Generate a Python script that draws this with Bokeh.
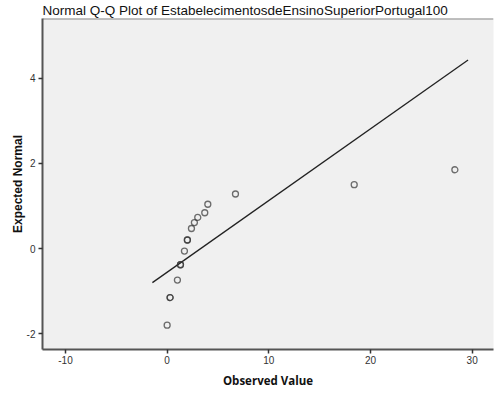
from bokeh.plotting import figure
from bokeh.embed import file_html
from bokeh.resources import INLINE
from bokeh.models import FixedTicker, Range1d

observed = [0.0, 0.29, 0.29, 1.01, 1.31, 1.31, 1.70, 1.99, 1.99, 2.39, 2.68, 3.01, 3.70, 4.00, 6.72, 18.4, 28.3]
expected = [-1.80, -1.15, -1.15, -0.74, -0.38, -0.38, -0.06, 0.20, 0.20, 0.47, 0.61, 0.73, 0.84, 1.04, 1.28, 1.50, 1.85]

# Reference line: expected = (x - mean) / sd
line_mean = 3.30
line_sd = 5.94
line_x = [-1.45, 29.6]
line_y = [(v - line_mean) / line_sd for v in line_x]

x_ticks = [-10, 0, 10, 20, 30]
y_ticks = [-2, 0, 2, 4]

p = figure(width=494, height=394, output_backend="svg", toolbar_location=None,
           x_range=Range1d(-12.26, 32.1), y_range=Range1d(-2.37, 5.40),
           title="Normal Q-Q Plot of EstabelecimentosdeEnsinoSuperiorPortugal100")
p.min_border_left = 42
p.min_border_right = 1
p.min_border_top = 0
p.min_border_bottom = 45
p.background_fill_color = "#f0f0f0"
p.border_fill_color = "white"
p.outline_line_color = None
p.grid.visible = False

p.title.text_font = "Liberation Sans"
p.title.text_font_size = "13.5px"
p.title.text_font_style = "normal"
p.title.text_color = "#111111"
p.title.offset = 0
p.title.standoff = 1

p.line(line_x, line_y, line_color="#222222", line_width=1.3)
p.scatter(observed, expected, size=6, fill_color=None, line_color="#333333",
          line_alpha=0.7, line_width=1.3)

# top border line
p.segment(x0=[-12.26], y0=[5.40], x1=[32.1], y1=[5.40], line_color="#888888", line_width=2)

for ax, ticks in ((p.xaxis[0], x_ticks), (p.yaxis[0], y_ticks)):
    ax.ticker = FixedTicker(ticks=ticks)
    ax.major_label_overrides = {t: str(t) for t in ticks}
    ax.minor_tick_line_color = None
    ax.major_tick_in = 0
    ax.major_tick_out = 4
    ax.major_tick_line_color = "#333333"
    ax.major_tick_line_width = 1.5
    ax.axis_line_color = "#555555"
    ax.axis_line_width = 2
    ax.major_label_text_font = "Liberation Sans"
    ax.major_label_text_font_size = "10px"
    ax.major_label_text_color = "#333333"
    ax.axis_label_text_font_style = "bold"
    ax.axis_label_text_color = "#111111"

p.xaxis.axis_label = "Observed Value"
p.xaxis.axis_label_text_font = "Open Sans"
p.xaxis.axis_label_text_font_size = "11.5px"
p.yaxis.axis_label = "Expected Normal"
p.yaxis.axis_label_text_font = "Liberation Sans"
p.yaxis.axis_label_text_font_size = "12px"
p.xaxis.major_label_standoff = 2
p.yaxis.major_label_standoff = 3
p.xaxis.axis_label_standoff = 6
p.yaxis.axis_label_standoff = -1

open("out.html", "w").write(file_html(p, INLINE))
